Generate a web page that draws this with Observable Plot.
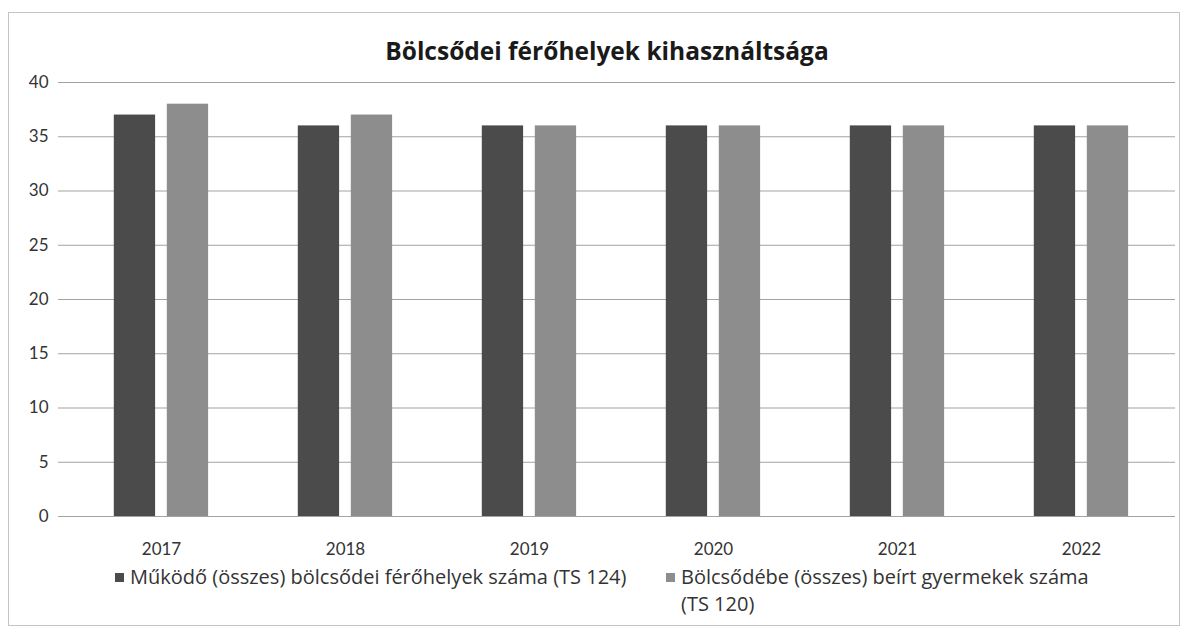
<!DOCTYPE html>
<html>
<head>
<meta charset="utf-8">
<script src="https://cdn.jsdelivr.net/npm/d3@7"></script>
<script src="https://cdn.jsdelivr.net/npm/@observablehq/plot@0.6"></script>
<style>
  body { margin: 0; background: #fff; }
  #wrap { position: relative; width: 1193px; height: 634px; font-family: Lato, "Open Sans", sans-serif; color: #333; }
  #frame { position: absolute; left: 8px; top: 12px; width: 1172px; height: 614px; border: 1px solid #c4c4c4; box-sizing: border-box; }
  #chart { position: absolute; left: 0; top: 0; }
  #title { position: absolute; left: 0; width: 1214px; top: 34px; text-align: center; font-family: "Open Sans", sans-serif; font-weight: bold; font-size: 24.5px; color: #1a1a1a; }
  .leg { position: absolute; display: flex; align-items: flex-start; font-family: "Open Sans", sans-serif; font-size: 20px; line-height: 27px; color: #333; }
  .leg .sw { flex: none; width: 9px; height: 9px; margin-right: 6px; margin-top: 10px; }
  .leg .tx { display: block; }
</style>
</head>
<body>
<div id="wrap">
  <div id="frame"></div>
  <div id="chart"></div>
  <div id="title"></div>
  <div class="leg" id="leg0" style="left:115px; top:563px;"></div>
  <div class="leg" id="leg1" style="left:666px; top:563px; width:455px;"></div>
</div>
<script>
const chartTitle = "Bölcsődei férőhelyek kihasználtsága";
const years = ["2017", "2018", "2019", "2020", "2021", "2022"];
const seriesNames = [
  "Működő (összes) bölcsődei férőhelyek száma (TS 124)",
  "Bölcsődébe (összes) beírt gyermekek száma (TS 120)"
];
const places = [37, 36, 36, 36, 36, 36];
const enrolled = [38, 37, 36, 36, 36, 36];
const yTicks = [0, 5, 10, 15, 20, 25, 30, 35, 40];
const barColors = ["#4b4b4b", "#8d8d8d"];

const data = years.flatMap((y, i) => [
  {year: y, series: seriesNames[0], value: places[i]},
  {year: y, series: seriesNames[1], value: enrolled[i]}
]);

const chart = Plot.plot({
  width: 1193,
  height: 560,
  marginTop: 82,
  marginBottom: 44,
  marginLeft: 58,
  marginRight: 18,
  style: {fontFamily: "Lato, 'Open Sans', sans-serif", fontSize: "17px", color: "#333", background: "transparent"},
  x: {domain: years, padding: 0, insetLeft: 9, label: null},
  y: {domain: [0, 40], label: null},
  color: {domain: seriesNames, range: barColors},
  marks: [
    Plot.ruleY(yTicks, {stroke: "#a3a3a3", strokeWidth: 1}),
    Plot.barY(data.filter(d => d.series === seriesNames[0]), {x: "year", y: "value", fill: "series", insetLeft: 44.8, insetRight: 97.9}),
    Plot.barY(data.filter(d => d.series === seriesNames[1]), {x: "year", y: "value", fill: "series", insetLeft: 97.8, insetRight: 44.9}),
    Plot.axisX({tickSize: 0, tickPadding: 26, fontSize: 17, label: null}),
    Plot.axisY({ticks: yTicks, tickSize: 0, tickPadding: 10, fontSize: 17, label: null})
  ]
});
document.getElementById("chart").append(chart);
document.getElementById("title").textContent = chartTitle;
seriesNames.forEach((name, i) => {
  const el = document.getElementById("leg" + i);
  const sw = document.createElement("span");
  sw.className = "sw";
  sw.style.background = barColors[i];
  const tx = document.createElement("span");
  tx.className = "tx";
  tx.textContent = name;
  el.append(sw, tx);
});
</script>
</body>
</html>
